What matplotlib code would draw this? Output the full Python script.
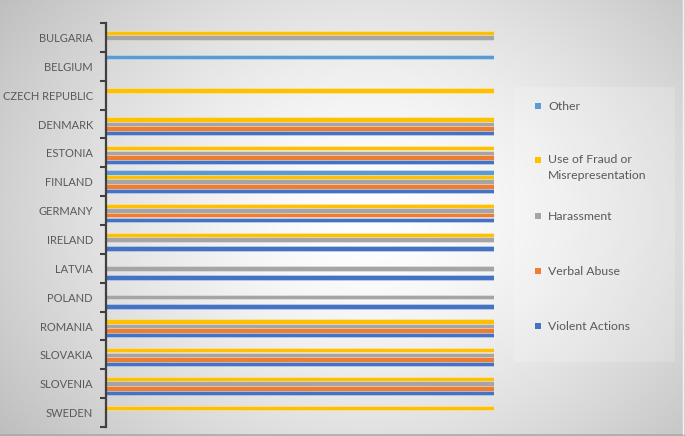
import numpy as np
import matplotlib
matplotlib.use("Agg")
import matplotlib.pyplot as plt
from matplotlib.patches import Rectangle

countries = ["BULGARIA", "BELGIUM", "CZECH REPUBLIC", "DENMARK", "ESTONIA",
             "FINLAND", "GERMANY", "IRELAND", "LATVIA", "POLAND", "ROMANIA",
             "SLOVAKIA", "SLOVENIA", "SWEDEN"]

series_names = ["Other", "Use of Fraud or\nMisrepresentation", "Harassment",
                "Verbal Abuse", "Violent Actions"]
series_colors = ["#5B9BD5", "#FFC000", "#A5A5A5", "#ED7D31", "#4472C4"]

other      = [0, 1, 0, 0, 0, 1, 0, 0, 0, 0, 0, 0, 0, 0]
fraud      = [1, 0, 1, 1, 1, 1, 1, 1, 0, 0, 1, 1, 1, 1]
harassment = [1, 0, 0, 1, 1, 1, 1, 1, 1, 1, 1, 1, 1, 0]
verbal     = [0, 0, 0, 1, 1, 1, 1, 0, 0, 0, 1, 1, 1, 0]
violent    = [0, 0, 0, 1, 1, 1, 1, 1, 1, 1, 1, 1, 1, 0]
series_values = [other, fraud, harassment, verbal, violent]

W, H = 685, 436
fig = plt.figure(figsize=(W / 100, H / 100), dpi=100)
FONT = ["Lato", "DejaVu Sans"]

# background radial gradient
bg = fig.add_axes([0, 0, 1, 1], zorder=0)
yy, xx = np.mgrid[0:H, 0:W]
r = np.sqrt(((xx - 370) / 420.0) ** 2 + ((yy - 215) / 330.0) ** 2)
val = 1 - 0.22 * np.clip(r, 0, 1.3) ** 1.5
img = np.dstack([val, val, val])
bg.imshow(img, extent=[0, W, H, 0], aspect="auto", interpolation="bilinear")
bg.set_xlim(0, W)
bg.set_ylim(H, 0)
bg.axis("off")
# legend panel
bg.add_patch(Rectangle((514, 87), 161, 275, facecolor="white", alpha=0.18,
                       edgecolor="none"))
bg.plot([0, W], [434.5, 434.5], color="#aaaaaa", lw=1.2)
bg.plot([683.5, 683.5], [0, 434], color="#f2f2f2", lw=1)

# legend entries
leg_y = [106, 160, 216, 271, 326]
fs_leg = 8.8
for name, col, ly in zip(series_names, series_colors, leg_y):
    bg.add_patch(Rectangle((535.5, ly - 2.8), 5.6, 5.6, facecolor=col,
                           edgecolor="none"))
    if "\n" in name:
        bg.text(548, ly - 6.5, name, fontsize=fs_leg, family=FONT,
                color="#595959", va="top", ha="left", linespacing=1.6)
    else:
        bg.text(548, ly, name, fontsize=fs_leg, family=FONT,
                color="#595959", va="center", ha="left")

# main chart
ax = fig.add_axes([106 / W, 1 - 427 / H, (494 - 106) / W, (427 - 23) / H],
                  zorder=1)
ax.set_facecolor("none")
n = len(countries)
y = np.arange(n)
offsets = [-0.32, -0.16, 0.0, 0.16, 0.32]
for vals, col, off in zip(series_values, series_colors, offsets):
    ax.barh(y + off, vals, height=0.155, color=col, edgecolor=(1, 1, 1, 0.5),
            linewidth=0.4)

ax.set_xlim(0, 1)
ax.set_ylim(n - 0.5, -0.5)
ax.set_yticks(y)
ax.set_yticklabels(countries, fontsize=8.0, family=FONT, color="#595959")
ax.set_yticks(np.arange(n + 1) - 0.5, minor=True)
ax.tick_params(axis="y", which="major", length=0, pad=9.5)
ax.tick_params(axis="y", which="minor", length=4, width=1.5, color="#404040",
               direction="out")
ax.set_xticks([])
for s in ["top", "right", "bottom"]:
    ax.spines[s].set_visible(False)
ax.spines["left"].set_color("#404040")
ax.spines["left"].set_linewidth(1.6)

fig.savefig("out.png", dpi=100)
